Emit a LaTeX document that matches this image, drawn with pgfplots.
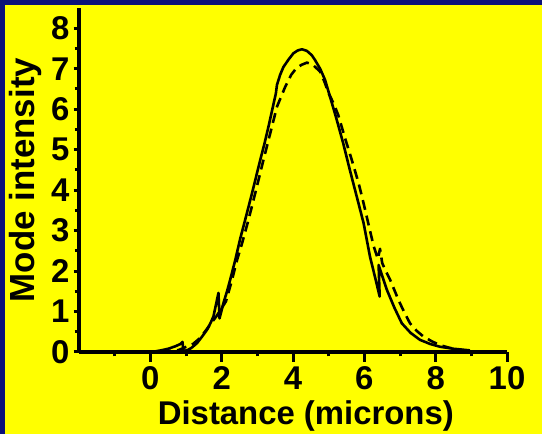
\documentclass[border=0pt]{standalone}
\usepackage{fontspec}
\setmainfont{Liberation Sans}
\usepackage{pgfplots}
\pgfplotsset{compat=1.18}
\definecolor{navy}{RGB}{12,18,120}
\definecolor{bgyellow}{RGB}{255,255,0}

\begin{document}
\begin{tikzpicture}[x=1bp,y=1bp]
\useasboundingbox (0,0) rectangle (542,434);
% slide background: dark frame with a yellow panel
\fill[navy] (0,0) rectangle (542,434);
\fill[bgyellow] (5,0) rectangle (542,429);
\begin{axis}[
  at={(79bp,82bp)}, anchor=south west,
  scale only axis, width=428bp, height=344bp,
  xmin=-2, xmax=10, ymin=0, ymax=8.5,
  axis x line=bottom, axis y line=left,
  axis line style={line width=4bp, -},
  xtick={0,2,...,10}, minor xtick={-1,1,...,9},
  ytick={0,...,8}, minor ytick={0.5,1.5,...,7.5},
  tick align=outside,
  major tick length=5.5bp, minor tick length=4.5bp,
  every major x tick/.append style={/pgfplots/major tick length=10bp},
  tick style={line width=3bp, black},
  /pgf/number format/assume math mode=true,
  ticklabel style={font=\fontsize{33}{36}\selectfont\bfseries, inner sep=0pt},
  xticklabel style={anchor=north, yshift=-9bp},
  yticklabel style={anchor=east, xshift=-4bp},
  xlabel={Distance (microns)},
  ylabel={Mode intensity},
  label style={font=\fontsize{33}{36}\selectfont\bfseries, inner sep=0pt},
  xlabel style={at={(axis description cs:0.53,-0.212)}, anchor=base},
  ylabel style={at={(axis description cs:-0.124,0.5)}, anchor=center,
                font=\fontsize{35}{38}\selectfont\bfseries},
  clip=false,
]
% measured mode profile
\addplot[black, line width=2.6bp, line join=round, no marks] coordinates {
(0.1,0.01) (0.3,0.04) (0.5,0.08) (0.7,0.14) (0.85,0.2) (0.9,0.25) (0.93,0.03)
(1.03,0.04) (1.15,0.1) (1.31,0.22) (1.45,0.38) (1.59,0.55) (1.7,0.74) (1.77,0.88)
(1.91,1.46) (1.94,0.83) (2.05,1.21) (2.15,1.5) (2.24,1.79) (2.38,2.27) (2.52,2.8)
(2.66,3.27) (2.85,3.92) (3.08,4.74) (3.2,5.15) (3.31,5.56) (3.52,6.39)
(3.55,6.6) (3.64,6.85) (3.73,7.04) (3.87,7.22) (4.01,7.38) (4.13,7.45) (4.25,7.48)
(4.39,7.44) (4.53,7.33) (4.62,7.21) (4.76,7.0) (4.90,6.72) (5.04,6.3) (5.2,5.82)
(5.41,5.15) (5.55,4.65) (5.69,4.17) (5.84,3.66) (5.98,3.18) (6.16,2.35)
(6.3,1.85) (6.43,1.37) (6.40,2.15) (6.52,1.83) (6.63,1.54) (6.84,1.1) (7.05,0.71)
(7.3,0.47) (7.56,0.3) (7.84,0.2) (8.12,0.13) (8.5,0.08) (8.96,0.04)
};
% calculated mode profile
\addplot[black, line width=2.6bp, dash pattern=on 10bp off 6bp, line join=round, no marks] coordinates {
(0.3,0.0) (0.8,0.05) (1.2,0.2) (1.4,0.35) (1.63,0.62) (1.85,0.88) (2.12,1.25)
(2.29,1.78) (2.43,2.27) (2.57,2.68) (2.75,3.26) (2.94,3.92) (3.17,4.74) (3.36,5.4)
(3.55,6.06) (3.78,6.55) (3.95,6.85) (4.1,7.02) (4.25,7.1) (4.39,7.15)
(4.55,7.1) (4.76,6.93) (4.88,6.68) (5.0,6.39) (5.15,6.12) (5.27,5.85) (5.46,5.28)
(5.65,4.74) (5.84,4.17) (5.98,3.67) (6.11,3.18) (6.26,2.62) (6.38,2.3)
(6.44,2.55) (6.5,2.2) (6.6,2.0) (6.72,1.79) (6.96,1.28) (7.12,0.98) (7.28,0.71)
(7.47,0.52) (7.66,0.38) (7.9,0.26) (8.12,0.17) (8.4,0.1) (8.68,0.05) (9.0,0.02)
};
\end{axis}
\end{tikzpicture}
\end{document}
